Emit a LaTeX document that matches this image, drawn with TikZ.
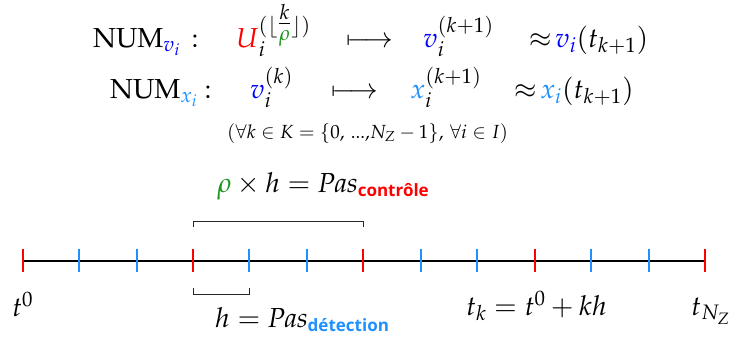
\documentclass[tikz,border=0pt]{standalone}
\usepackage{amsmath}
\usepackage{mathpazo}
\usepackage[no-math]{fontspec}
\newfontfamily\sansbold{Open Sans}
\definecolor{cred}{RGB}{255,0,0}
\definecolor{cblue}{RGB}{0,0,255}
\definecolor{clblue}{RGB}{30,144,255}
\definecolor{cgreen}{RGB}{30,150,30}
\newcommand{\subtxt}[2]{\hbox{\color{#1}\fontsize{17}{17}\sansbold\bfseries #2}}
\newcommand{\floorsup}{\raisebox{3pt}{$\scriptstyle(\lfloor \smash{\raisebox{1.5pt}{$\genfrac{}{}{}{1}{k}{\textcolor{cgreen}{\rho}}$}}\rfloor)$}}
\tikzset{
  eq/.style={inner sep=0pt, anchor=base west, font=\fontsize{27.5}{33}\selectfont},
  small/.style={inner sep=0pt, anchor=base west, font=\fontsize{19}{24}\selectfont},
  axis/.style={line width=1.1pt, black},
  redtick/.style={line width=2pt, cred},
  bluetick/.style={line width=2pt, clblue},
  brace/.style={line width=1pt, black!85},
}
\begin{document}
\begin{tikzpicture}[x=1pt, y=-1pt]
\useasboundingbox (0,0) rectangle (729,338);
% row 1
\node[eq] (num1) at (93,47) {$\mathrm{NUM}_{\textcolor{cblue}{v_i}}$};
\node[eq] (col1) at (191,47) {$:$};
\node[eq] (u1) at (236,47) {$\textcolor{cred}{U}_i^{\floorsup}$};
\node[eq] (ar1) at (346,47) {$\longmapsto$};
\node[eq] (v1) at (423,47) {$\textcolor{cblue}{v}_i^{(k+1)}$};
\node[eq] (ap1) at (529,47) {$\approx\mkern-3mu \textcolor{cblue}{v_i}(t_{k+1})$};
% row 2
\node[eq] (num2) at (110,98) {$\mathrm{NUM}_{\textcolor{clblue}{x_i}}$};
\node[eq] (col2) at (204,98) {$:$};
\node[eq] (v2) at (250,98) {$\textcolor{cblue}{v}_i^{(k)}$};
\node[eq] (ar2) at (331,98) {$\longmapsto$};
\node[eq] (x2) at (410,98) {$\textcolor{clblue}{x}_i^{(k+1)}$};
\node[eq] (ap2) at (514,98) {$\approx\mkern-3mu \textcolor{clblue}{x_i}(t_{k+1})$};
% row 3
\node[small] (cond) at (227,138) {$(\forall k \in K = \{0,\, ...{,}N_Z - 1\},\, \forall i \in I)$};
% timeline
\coordinate (a0) at (22,261);
\coordinate (a12) at (705,261);
\draw[axis] (a0) -- (a12);
\foreach \xx in {23,193,363,535,705}{
  \draw[redtick] (\xx,249) -- (\xx,272);
}
\foreach \xx in {79,137,249,307,421,477,591,649}{
  \draw[bluetick] (\xx,249) -- (\xx,272);
}
% brackets
\draw[brace] (193,227) -- (193,221) -- (363,221) -- (363,227);
\draw[brace] (193,288) -- (193,294) -- (249,294) -- (249,288);
% labels
\node[eq] (ctrl) at (217,192) {$\textcolor{cgreen}{\rho} \times h = \mathit{Pas}_{\subtxt{cred}{contrôle}}$};
\node[eq] (det) at (215,327) {$h = \mathit{Pas}_{\subtxt{clblue}{détection}}$};
\node[eq] (t0) at (12,316) {$t^0$};
\node[eq] (tk) at (466,315) {$t_k = t^0 + kh$};
\node[eq] (tn) at (691,315) {$t_{N_Z}$};
\end{tikzpicture}
\end{document}
